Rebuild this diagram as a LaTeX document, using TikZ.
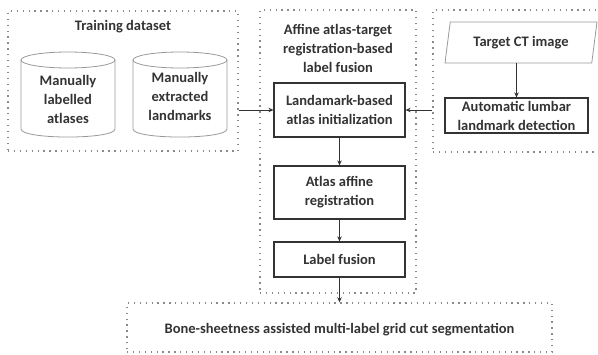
\documentclass[tikz,border=0pt]{standalone}
\usepackage{fontspec}
\setmainfont{Carlito}
\usetikzlibrary{shapes.geometric,arrows.meta}
\definecolor{txt}{HTML}{333333}
\definecolor{dotc}{HTML}{8A8A8A}
\newcommand\txtfont{\fontsize{14.5}{19}\selectfont\bfseries}
\begin{document}
\begin{tikzpicture}[x=1pt,y=-1pt,
  group/.style={draw=dotc, line width=1.4pt, dash pattern=on 1.3pt off 4.6pt, rectangle, inner sep=0pt},
  proc/.style={draw=txt, line width=1.2pt, fill=white, rectangle, align=center, font=\txtfont, text=txt, inner sep=0pt},
  lbl/.style={align=center, font=\txtfont, text=txt, inner sep=0pt},
  cyl/.style={draw=black!40, line width=0.8pt},
  arr/.style={-{Stealth[length=5pt,width=4.5pt]}, line width=1pt, draw=txt}]
\useasboundingbox (0,0) rectangle (598,354);
% groups
\node[group, minimum width=230pt, minimum height=140pt] (train) at (123,81) {};
\node[group, minimum width=156pt, minimum height=283pt] (mid) at (338,151.5) {};
\node[group, minimum width=167pt, minimum height=142pt] (right) at (516.5,81) {};
\node[group, minimum width=425pt, minimum height=49pt] (bottom) at (339.5,327.5) {};
% titles
\node[lbl] (traint) at (123,27) {Training dataset};
\node[lbl] (midt) at (338,48) {Affine atlas-target\\registration-based\\label fusion};
\node[lbl] (bott) at (339.5,330) {Bone-sheetness assisted multi-label grid cut segmentation};
% cylinders
\draw[cyl] (68,60) ellipse [x radius=47, y radius=8];
\draw[cyl] (21,60) -- (21,129) .. controls (21,139.7) and (115,139.7) .. (115,129) -- (115,60);
\draw[cyl] (180,60) ellipse [x radius=47, y radius=8];
\draw[cyl] (133,60) -- (133,129) .. controls (133,139.7) and (227,139.7) .. (227,129) -- (227,60);
\node[lbl] (atl) at (68,99) {Manually\\labelled\\atlases};
\node[lbl] (lmk) at (180,96) {Manually\\extracted\\landmarks};
% process boxes
\node[proc, minimum width=131pt, minimum height=54pt] (land) at (339.5,110) {Landamark-based\\atlas initialization};
\node[proc, minimum width=131pt, minimum height=53pt] (aff) at (339.5,192.5) {Atlas affine\\registration};
\node[proc, minimum width=131pt, minimum height=35pt] (fus) at (339.5,259.5) {Label fusion};
\node[proc, minimum width=143pt, minimum height=35pt] (auto) at (516.5,115.5) {Automatic lumbar\\landmark detection};
\node[trapezium, trapezium stretches body, trapezium left angle=67.5, trapezium right angle=112.5,
      draw=black!40, line width=0.8pt, minimum width=152pt, minimum height=41pt, font=\txtfont, text=txt, inner sep=0pt] (ct) at (521,42.5) {Target CT image};
% connectors
\draw[arr] (train.east |- land.west) -- (land.west);
\draw[arr] (right.west |- land.east) -- (land.east);
\draw[arr] (auto.north |- ct.south) -- (auto.north);
\draw[arr] (land.south) -- (aff.north);
\draw[arr] (aff.south) -- (fus.north);
\draw[arr] (fus.south) -- (bottom.north);
\end{tikzpicture}
\end{document}
